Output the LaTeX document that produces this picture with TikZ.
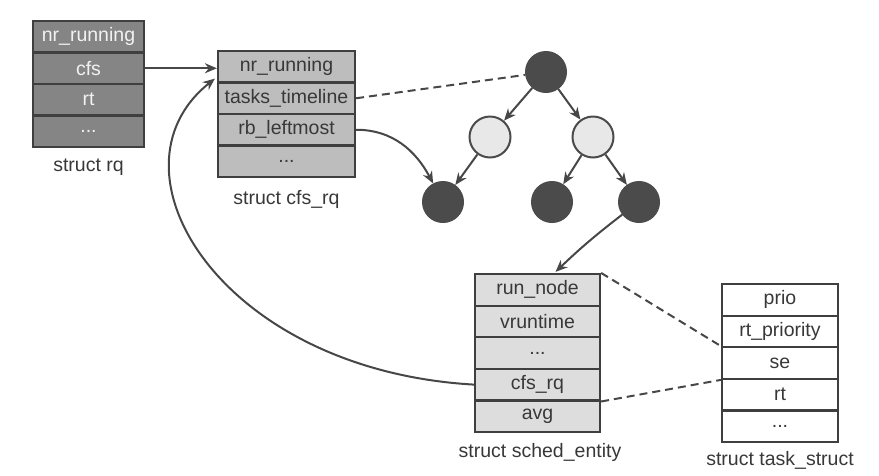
\documentclass[tikz,border=0pt]{standalone}
\usepackage{fontspec}
\setmainfont{Liberation Sans}
\usetikzlibrary{arrows.meta,calc}
\definecolor{rqfill}{HTML}{858585}
\definecolor{rqtext}{HTML}{F2F2F2}
\definecolor{cfsfill}{HTML}{BDBDBD}
\definecolor{sefill}{HTML}{DDDDDD}
\definecolor{edge}{HTML}{3F3F3F}
\definecolor{txt}{HTML}{383838}
\definecolor{darknode}{HTML}{4B4B4B}
\definecolor{lightnode}{HTML}{E8E8E8}
\definecolor{conn}{HTML}{474747}
\begin{document}
\begin{tikzpicture}[x=1pt,y=-1pt,
  cell/.style={draw=edge,line width=2.2pt,inner sep=0pt,anchor=center,
    font=\fontsize{19.5}{22}\selectfont,text=txt},
  rqcell/.style={cell,fill=rqfill,text=rqtext,minimum width=111pt,minimum height=31.5pt},
  cfscell/.style={cell,fill=cfsfill,minimum width=137pt,minimum height=31.5pt},
  secell/.style={cell,fill=sefill,minimum width=125pt,minimum height=31.6pt},
  tscell/.style={cell,fill=white,minimum width=116pt,minimum height=31.6pt},
  caption/.style={font=\fontsize{19.5}{22}\selectfont,text=txt,inner sep=0pt},
  dnode/.style={circle,fill=darknode,draw=darknode,line width=1pt,minimum size=41pt,inner sep=0pt},
  lnode/.style={circle,fill=lightnode,draw=darknode,line width=2pt,minimum size=41pt,inner sep=0pt},
  arr/.style={draw=conn,line width=2pt,-{Stealth[length=12pt,width=10pt]}},
  dashline/.style={draw=conn,line width=2pt,dash pattern=on 8pt off 5pt}]
\useasboundingbox (0,0) rectangle (879,475);

% struct rq
\node[rqcell] (rqnr)  at (88.5,36.75)  {nr\_running};
\node[rqcell] (rqcfs) at (88.5,68.25)  {cfs};
\node[rqcell] (rqrt)  at (88.5,99.75)  {rt};
\node[rqcell] (rqdot) at (88.5,131.25) {...};
\node[caption] (rqlab) at (88.5,167) {struct rq};

% struct cfs_rq
\node[cfscell] (cfsnr) at (286.5,66.75)  {nr\_running};
\node[cfscell] (cfstl) at (286.5,98.25)  {tasks\_timeline};
\node[cfscell] (cfsrb) at (286.5,129.75) {rb\_leftmost};
\node[cfscell] (cfsdot) at (286.5,161.25) {...};
\node[caption] (cfslab) at (286.5,199) {struct cfs\_rq};

% rb tree
\node[dnode] (root) at (546,72) {};
\node[lnode] (l1) at (490,137) {};
\node[lnode] (r1) at (593,137) {};
\node[dnode] (ll) at (443,202) {};
\node[dnode] (rl) at (552,202) {};
\node[dnode] (rr) at (639,202) {};

% struct sched_entity
\node[secell] (serun) at (537.5,289.8) {run\_node};
\node[secell] (sevr)  at (537.5,321.4) {vruntime};
\node[secell] (sedot) at (537.5,353.0) {...};
\node[secell] (secfs) at (537.5,384.6) {cfs\_rq};
\node[secell] (seavg) at (537.5,416.2) {avg};
\node[caption] (selab) at (540,452) {struct sched\_entity};

% struct task_struct
\node[tscell] (tsprio) at (780,299.8) {prio};
\node[tscell] (tsrtp)  at (780,331.4) {rt\_priority};
\node[tscell] (tsse)   at (780,363.0) {se};
\node[tscell] (tsrt)   at (780,394.6) {rt};
\node[tscell] (tsdot)  at (780,426.2) {...};
\node[caption] (tslab) at (780,460) {struct task\_struct};

% connectors
\draw[arr] (rqcfs.east) -- (rqcfs.east -| cfsnr.west);
\draw[dashline] (cfstl.east) -- (root);
\draw[arr] (cfsrb.east) to[out=0,in=118] (ll);
\draw[arr] (root) -- (l1);
\draw[arr] (root) -- (r1);
\draw[arr] (l1) -- (ll);
\draw[arr] (r1) -- (rl);
\draw[arr] (r1) -- (rr);
\draw[arr] (rr) to[bend right=3] ($(serun.north)+(18,-1)$);
\draw[arr] (secfs.west) .. controls (220,370) and (100,170) .. ($(cfsnr.south west)+(-2,-5)$);
\draw[dashline] (serun.north east) -- (tsse.north west);
\draw[dashline] (secfs.south east) -- (tsse.south west);
\end{tikzpicture}
\end{document}
